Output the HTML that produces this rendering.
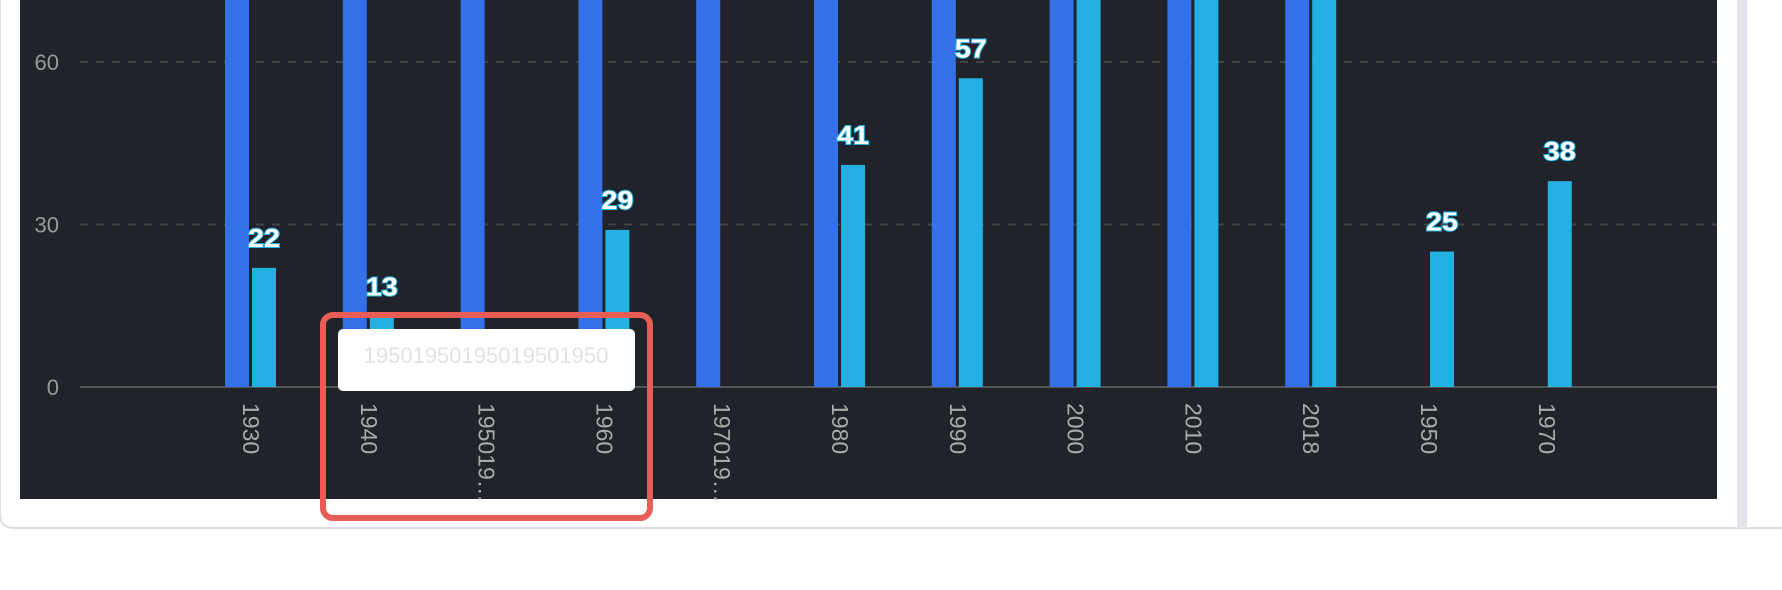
<!DOCTYPE html>
<html><head><meta charset="utf-8"><style>
html,body{margin:0;padding:0;background:#fff;width:1782px;height:590px;overflow:hidden;font-family:"Liberation Sans",sans-serif}
</style></head><body>
<svg width="1782" height="590" viewBox="0 0 1782 590" xmlns="http://www.w3.org/2000/svg">
<path d="M0,0 V514 Q0,528 14,528 H1782" fill="none" stroke="#dcdfe3" stroke-width="2"/>
<rect x="1737" y="0" width="10" height="528" fill="#e4e4ea"/>
<rect x="20" y="0" width="1697" height="499" fill="#202329"/>
<g id="grid"></g><g id="bars"></g><g id="labels"></g>
<rect x="338" y="329" width="297" height="62" rx="5" fill="#fff"/>
<text x="486" y="363" text-anchor="middle" font-size="22" fill="#e2e2e2">19501950195019501950</text>
<rect x="323" y="315" width="327" height="203" rx="10" fill="none" stroke="#e85d55" stroke-width="6"/>
</svg>
<script>
const categories=["1930","1940","1950195019501950","1960","1970197019701970","1980","1990","2000","2010","2018","1950","1970"];
const seriesA=[100,100,100,100,100,100,100,100,100,100,null,null];
const seriesB=[22,13,null,29,null,41,57,100,100,100,25,38];
const yTicks=[0,30,60];
const NS="http://www.w3.org/2000/svg";
const y0=387,pxPer=162.5/30;
function yS(v){return y0-v*pxPer;}
function xS(i){return 251+i*117.8;}
function mk(t,a,p){const e=document.createElementNS(NS,t);for(const k in a)e.setAttribute(k,a[k]);p.appendChild(e);return e;}
const grid=document.getElementById('grid'),bars=document.getElementById('bars'),labels=document.getElementById('labels');
yTicks.forEach(v=>{
  const l=mk('line',{x1:80,x2:1717,y1:yS(v),y2:yS(v),stroke:v===0?'#555':'#444','stroke-width':2,'stroke-dasharray':v===0?'none':'8,8'},grid);
  
  
  const t=mk('text',{x:59,y:yS(v)+8,'text-anchor':'end','font-size':22,fill:'#999'},grid);
  t.textContent=v;
  
  
});
categories.forEach((c,i)=>{
  const cx=xS(i);
  if(seriesA[i]!=null){
    const top=Math.max(yS(seriesA[i]),0);
    const r=mk('rect',{x:cx-26,y:top,width:24,height:y0-top,fill:'#3470e8'},bars);
    
    
  }
  if(seriesB[i]!=null){
    const top=Math.max(yS(seriesB[i]),0);
    const r=mk('rect',{x:cx+1,y:top,width:24,height:y0-top,fill:'#23b0e2'},bars);
    
    
    if(yS(seriesB[i])>20){
      const t=mk('text',{x:cx+13,y:yS(seriesB[i])-21,'text-anchor':'middle','font-size':26,'font-weight':'bold',fill:'#fff',stroke:'#23b0e2','stroke-width':2,'paint-order':'stroke',textLength:32,lengthAdjust:'spacingAndGlyphs'},labels);
      t.textContent=seriesB[i];
      
      
    }
  }
  const lab=c.length>4?c.slice(0,6)+'…':c;
  const t=mk('text',{x:0,y:0,'font-size':23,fill:'#aaa',transform:`translate(${cx-8},403) rotate(90)`},labels);
  t.textContent=lab;
  
  
});
</script>
</body></html>
